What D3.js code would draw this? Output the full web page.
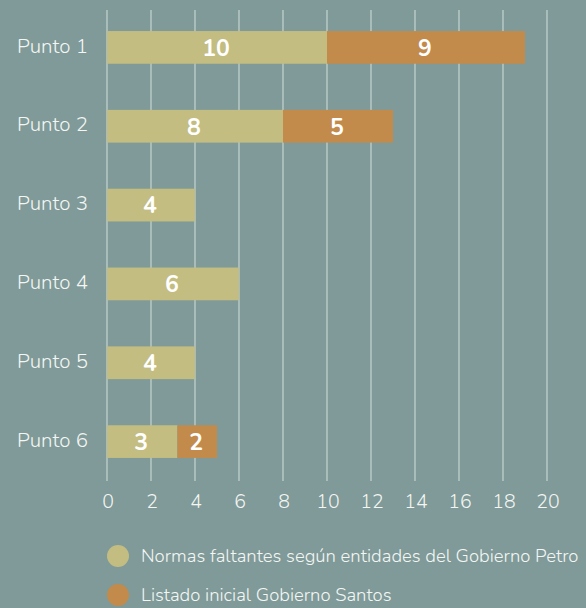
<!DOCTYPE html>
<html><head><meta charset="utf-8">
<script src="https://cdn.jsdelivr.net/npm/d3@7"></script>
<style>
html,body{margin:0;padding:0;background:#7f9a98;}
svg{display:block;font-family:"Nunito","Lato","Open Sans",sans-serif;}
</style></head><body>
<svg id="c" width="586" height="608"></svg>
<script>
const categories = ["Punto 1","Punto 2","Punto 3","Punto 4","Punto 5","Punto 6"];
const petro = [10, 8, 4, 6, 4, 3.2];
const santos = [9, 5, 0, 0, 0, 1.8];
const xTicks = [0,2,4,6,8,10,12,14,16,18,20];
const seriesNames = ["Normas faltantes según entidades del Gobierno Petro","Listado inicial Gobierno Santos"];
const colors = ["#c3bd81","#c28b4b"];

const svg = d3.select("#c");
const x = d3.scaleLinear().domain([0,20]).range([107,547]);
const y = d3.scaleBand().domain(categories).range([8,481]).paddingInner(0.585).paddingOuter(0.2925);

// grid
svg.append("g").selectAll("line").data(xTicks).join("line")
  .attr("x1",d=>x(d)).attr("x2",d=>x(d)).attr("y1",10).attr("y2",481)
  .attr("stroke","#d6e2df").attr("stroke-opacity",0.75).attr("stroke-width",1.3);

const data = categories.map((c,i)=>({c, vals:[petro[i], santos[i]]}));
const stack = d3.stack().keys([0,1]).value((d,k)=>d.vals[k]);
const layers = stack(data);

layers.forEach((layer,k)=>{
  const g = svg.append("g");
  g.selectAll("rect").data(layer.filter(d=>d[1]-d[0]>0)).join("rect")
    .attr("x",d=>x(d[0])).attr("width",d=>x(d[1])-x(d[0]))
    .attr("y",d=>y(d.data.c)).attr("height",y.bandwidth())
    .attr("fill",colors[k]);
  g.selectAll("text").data(layer.filter(d=>d[1]-d[0]>0)).join("text")
    .attr("x",d=>(x(d[0])+x(d[1]))/2 - 1).attr("y",d=>y(d.data.c)+y.bandwidth()/2)
    .attr("dy","0.36em").attr("text-anchor","middle")
    .attr("fill","#ffffff").attr("font-weight",700).attr("font-size",23)
    .text(d=>d3.format(".0f")(d[1]-d[0]));
});

// y labels
svg.append("g").selectAll("text").data(categories).join("text")
  .attr("x",88).attr("y",d=>y(d)+y.bandwidth()/2 - 2).attr("dy","0.35em")
  .attr("text-anchor","end").attr("fill","#f4f6f4").attr("font-size",20.5).attr("font-weight",300)
  .text(d=>d);

// x tick labels
svg.append("g").selectAll("text").data(xTicks).join("text")
  .attr("x",d=>x(d)+1).attr("y",501).attr("dy","0.35em").attr("text-anchor","middle")
  .attr("fill","#f4f6f4").attr("font-size",19.5).attr("font-weight",300)
  .text(d=>d);

// legend
const lg = svg.append("g");
seriesNames.forEach((n,i)=>{
  const cy = 556 + i*39;
  lg.append("circle").attr("cx",118).attr("cy",cy).attr("r",11).attr("fill",colors[i]);
  lg.append("text").attr("x",141).attr("y",cy).attr("dy","0.35em")
    .attr("fill","#f4f6f4").attr("font-size",18.5).attr("font-weight",300).text(n);
});
</script></body></html>
